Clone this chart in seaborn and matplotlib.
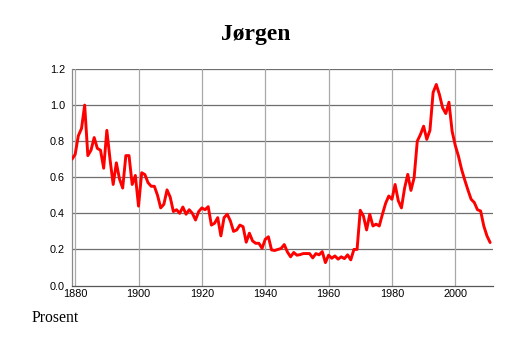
import matplotlib
matplotlib.use("Agg")
import matplotlib.pyplot as plt
from matplotlib.ticker import MultipleLocator
import seaborn as sns
import pandas as pd

title = "Jørgen"
ylabel_text = "Prosent"

years = list(range(1879, 2012))
values = [
    0.70, 0.727, 0.83, 0.87, 1.00, 0.72, 0.75, 0.82, 0.76, 0.75,
    0.65, 0.86, 0.70, 0.56, 0.68, 0.59, 0.54, 0.72, 0.72, 0.56,
    0.61, 0.44, 0.625, 0.615, 0.57, 0.55, 0.55, 0.50, 0.43, 0.45,
    0.53, 0.49, 0.41, 0.42, 0.40, 0.435, 0.395, 0.42, 0.40, 0.363,
    0.41, 0.43, 0.42, 0.437, 0.335, 0.345, 0.376, 0.275, 0.376, 0.395,
    0.358, 0.30, 0.308, 0.335, 0.326, 0.24, 0.29, 0.247, 0.234, 0.234,
    0.206, 0.256, 0.27, 0.197, 0.194, 0.20, 0.205, 0.227, 0.186, 0.159,
    0.183, 0.168, 0.171, 0.177, 0.177, 0.177, 0.153, 0.177, 0.17, 0.188,
    0.127, 0.168, 0.151, 0.164, 0.146, 0.159, 0.149, 0.17, 0.142, 0.20,
    0.20, 0.417, 0.385, 0.308, 0.395, 0.33, 0.34, 0.33, 0.395, 0.455,
    0.496, 0.478, 0.56, 0.47, 0.43, 0.54, 0.616, 0.527, 0.597, 0.80,
    0.837, 0.883, 0.81, 0.86, 1.07, 1.114, 1.058, 0.985, 0.953, 1.016,
    0.855, 0.776, 0.717, 0.643, 0.584, 0.529, 0.478, 0.46, 0.42, 0.413,
    0.33, 0.275, 0.238,
]

df = pd.DataFrame({"year": years, "value": values})

sns.set_style("white")
plt.rcParams["font.family"] = ["Liberation Sans", "DejaVu Sans"]
plt.rcParams["text.color"] = "black"

fig = plt.figure(figsize=(5.14, 3.43), dpi=100)
ax = fig.add_axes([72 / 514, 1 - 285.5 / 343, (493.3 - 72) / 514, (285.5 - 69) / 343])

sns.lineplot(data=df, x="year", y="value", ax=ax, color="#ff0000", linewidth=2.1, zorder=3)

ax.set_xlim(1879, 2012)
ax.set_ylim(0, 1.2)
ax.xaxis.set_major_locator(MultipleLocator(20))
ax.xaxis.set_minor_locator(MultipleLocator(5))
ax.yaxis.set_major_locator(MultipleLocator(0.2))
ax.set_yticklabels([f"{v:.1f}" for v in ax.get_yticks()])

ax.grid(False)
for v in [0.2, 0.4, 0.6, 0.8, 1.0, 1.2]:
    ax.axhline(v, color="#6e6e6e", linewidth=0.9, zorder=1)
for yr in range(1880, 2012, 20):
    ax.axvline(yr, color="#a8a8a8", linewidth=0.9, zorder=1)

for s in ["top", "right"]:
    ax.spines[s].set_visible(False)
ax.spines["left"].set_color("#8a8a8a")
ax.spines["left"].set_linewidth(0.9)
ax.spines["bottom"].set_color("#555555")
ax.spines["bottom"].set_linewidth(0.9)

ax.tick_params(axis="x", which="both", direction="in", length=2.2, width=0.7,
               color="#777777", labelsize=7.8, pad=2.5, labelcolor="black")
ax.tick_params(axis="y", which="both", length=0, labelsize=7.8, pad=5, labelcolor="black")
ax.set_xlabel("")
ax.set_ylabel("")

fig.text(256 / 514, 1 - 40 / 343, title, ha="center", va="baseline", color="black",
         fontsize=17, fontweight="bold", family=["Liberation Serif", "DejaVu Serif"])
fig.text(31.7 / 514, 1 - 322 / 343, ylabel_text, ha="left", va="baseline", color="black",
         fontsize=11.3, family=["Liberation Serif", "DejaVu Serif"])

fig.savefig("out.png", dpi=100, facecolor="white")
